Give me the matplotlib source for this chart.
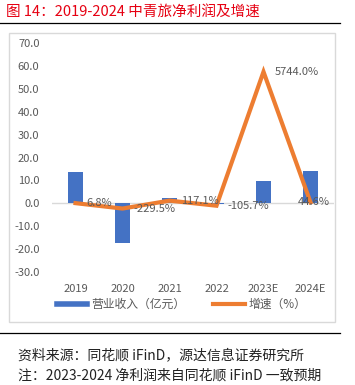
import matplotlib
matplotlib.use("Agg")
import matplotlib.pyplot as plt
from matplotlib.patches import Rectangle
from matplotlib.lines import Line2D

plt.rcParams['font.family'] = ['Noto Sans CJK SC', 'DejaVu Sans']

years = ["2019", "2020", "2021", "2022", "2023E", "2024E"]
profit = [13.5, -17.5, 2.4, -0.15, 9.6, 13.9]          # 营业收入（亿元）
growth = [6.8, -229.5, 117.1, -105.7, 5744.0, 44.6]    # 增速（%）
growthLabels = ["6.8%", "-229.5%", "117.1%", "-105.7%", "5744.0%", "44.6%"]

W, H = 355, 385
fig = plt.figure(figsize=(W / 100, H / 100), dpi=100)

def px(x0, y0, x1, y1):
    # pixel box (top-left origin) -> figure fraction rect
    return [x0 / W, 1 - y1 / H, (x1 - x0) / W, (y1 - y0) / H]

# title and rules
fig.text(6 / W, 1 - 12 / H, "图 14：2019-2024 中青旅净利润及增速", color="#E60012",
         fontsize=10.5, fontweight="medium", va="center", ha="left")
fig.add_artist(Line2D([0, 340 / W], [1 - 23 / H] * 2, color="black", lw=0.9))
fig.add_artist(Rectangle((9 / W, 1 - 322 / H), 326 / W, 289 / H, fill=False,
                         edgecolor="#D9D9D9", lw=1))
fig.add_artist(Line2D([0, 340 / W], [1 - 333 / H] * 2, color="black", lw=0.9))
fig.text(18 / W, 1 - 355 / H, "资料来源：同花顺 iFinD，源达信息证券研究所", color="#222222",
         fontsize=10, va="center", ha="left")
fig.text(18 / W, 1 - 376 / H, "注：2023-2024 净利润来自同花顺 iFinD 一致预期", color="#222222",
         fontsize=10, va="center", ha="left")

ax = fig.add_axes(px(52, 43, 334, 272))
x = range(len(years))
ax.bar(x, profit, width=0.32, color="#4472C4", zorder=2)
ax.axhline(0, color="#D9D9D9", lw=1, zorder=1)
ax.set_ylim(-30, 70)
ax.set_xlim(-0.5, len(years) - 0.5)
ax.set_yticks(range(-30, 71, 10))
ax.set_yticklabels([f"{v:.1f}" for v in range(-30, 71, 10)])
ax.set_xticks(list(x))
ax.set_xticklabels(years)
ax.tick_params(axis="both", length=0, colors="#595959", labelsize=8)
ax.tick_params(axis="x", pad=9)
ax.tick_params(axis="y", pad=9)
for s in ax.spines.values():
    s.set_visible(False)

ax2 = ax.twinx()
ax2.plot(list(x), growth, color="#ED7D31", lw=3, zorder=3, solid_joinstyle="miter")
ax2.set_ylim(-3000, 7000)
ax2.set_yticks([])
for s in ax2.spines.values():
    s.set_visible(False)
for i, (g, lab) in enumerate(zip(growth, growthLabels)):
    # last label sits on top of its point, like the original
    dx = -9 if i == len(growth) - 1 else 8
    ax2.annotate(lab, (i, g), xytext=(dx, 0), textcoords="offset points",
                 ha="left", va="center", fontsize=8, color="#595959", zorder=4)

# legend
fig.add_artist(Line2D([57 / W, 87 / W], [1 - 304 / H] * 2, color="#4472C4", lw=4))
fig.text(91 / W, 1 - 304 / H, "营业收入（亿元）", color="#595959", fontsize=8.5, va="center")
fig.add_artist(Line2D([213 / W, 245 / W], [1 - 304 / H] * 2, color="#ED7D31", lw=3))
fig.text(249 / W, 1 - 304 / H, "增速（%）", color="#595959", fontsize=8.5, va="center")

fig.savefig("out.png", dpi=100)
